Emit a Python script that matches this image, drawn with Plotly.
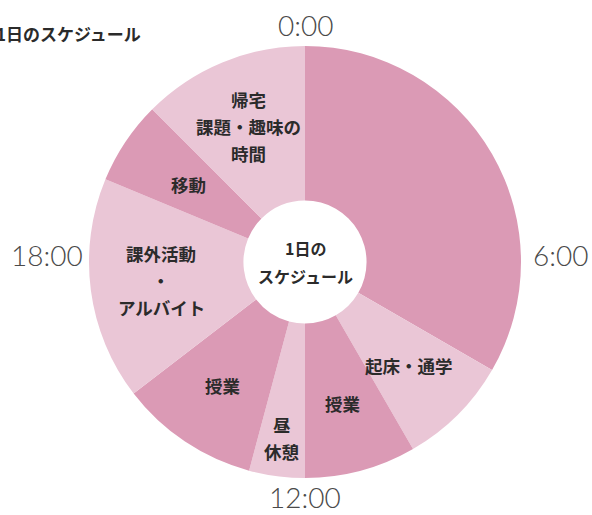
import math
import plotly.graph_objects as go

# schedule (hours, clockwise from 0:00)
activities = ["睡眠", "起床・通学", "授業", "昼休憩", "授業", "課外活動・アルバイト", "移動", "帰宅・課題・趣味の時間"]
hours = [8, 2, 2, 1, 2.5, 4, 1.5, 3]
slice_labels = [[], ["起床・通学"], ["授業"], ["昼", "休憩"], ["授業"], ["課外活動", "・", "アルバイト"], ["移動"],
                ["帰宅", "課題・趣味の", "時間"]]
hour_ticks = ["0:00", "6:00", "12:00", "18:00"]

dark = "#db9ab5"
light = "#eac6d6"
colors = [dark, light, dark, light, dark, light, dark, light]

W, H = 592, 515
cx, cy, R = 305, 262, 216


def px(x):
    return x / W


def py(y):
    return 1 - y / H


fig = go.Figure(go.Pie(
    labels=[f"{i}:{a}" for i, a in enumerate(activities)],
    values=hours,
    sort=False,
    direction="clockwise",
    rotation=0,
    hole=0.285,
    marker=dict(colors=colors, line=dict(width=0)),
    textinfo="none",
    hoverinfo="skip",
    showlegend=False,
    domain=dict(x=[(cx - R) / W, (cx + R) / W], y=[(H - cy - R) / H, (H - cy + R) / H]),
))

txt_font = dict(size=17.5, color="#2b2b2b", family="Noto Sans CJK JP", weight="bold")


def put_lines(lines, x, y, spacing=27, font=txt_font):
    n = len(lines)
    for i, line in enumerate(lines):
        yy = y + (i - (n - 1) / 2) * spacing
        fig.add_annotation(x=px(x), y=py(yy), xref="paper", yref="paper",
                           xanchor="center", yanchor="middle",
                           text=line, showarrow=False, font=font)


# slice labels at mid angle of each slice
label_r = [0, 147, 147, 178, 148, 145, 140, 147]
start = 0
for h, lines, r in zip(hours, slice_labels, label_r):
    mid = (start + h / 2) / 24 * 2 * math.pi
    start += h
    if not lines:
        continue
    put_lines(lines, cx + r * math.sin(mid), cy - r * math.cos(mid))

# hour labels around the clock
hour_pos = [(305, 25), (560, 255), (305, 497), (47, 255)]
for t, (x, y) in zip(hour_ticks, hour_pos):
    fig.add_annotation(x=px(x), y=py(y), xref="paper", yref="paper",
                       xanchor="center", yanchor="middle",
                       text=t, showarrow=False,
                       font=dict(size=28, color="#4a4a4a", family="Lato Light, Lato", weight=300))

# center text
put_lines(["1日の", "スケジュール"], cx, cy, spacing=28,
          font=dict(size=16, color="#2b2b2b", family="Noto Sans CJK JP", weight="bold"))

# title (left edge slightly cut, as in the original)
fig.add_annotation(x=px(-6), y=py(33), xref="paper", yref="paper",
                   xanchor="left", yanchor="middle", text="<b>1日のスケジュール</b>", showarrow=False,
                   font=dict(size=17, color="#2b2b2b", family="Noto Sans CJK JP"))

fig.update_layout(
    width=W, height=H,
    margin=dict(l=0, r=0, t=0, b=0),
    paper_bgcolor="white",
    plot_bgcolor="white",
)

fig.write_html("out.html", config={"displayModeBar": False},
               post_script="document.body.style.margin='0';document.body.style.overflow='hidden';")
